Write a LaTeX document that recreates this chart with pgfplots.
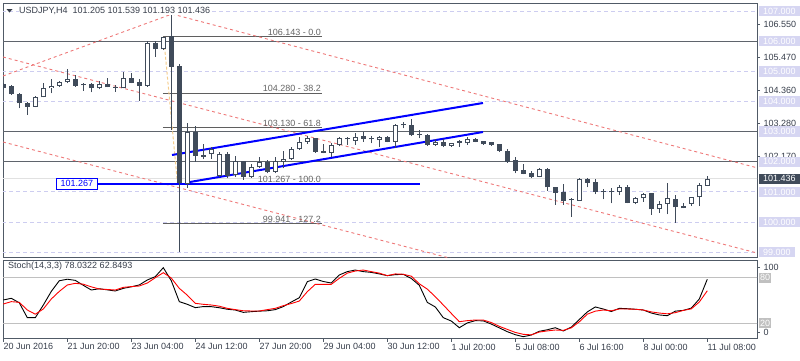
\documentclass[border=0pt]{standalone}
\usepackage{pgfplots}
\pgfplotsset{compat=1.18}
\usepackage{pgfplotstable}
\usepackage{fontspec}
\setmainfont{Liberation Sans}

\definecolor{cdark}{RGB}{64,75,90}
\definecolor{framec}{RGB}{80,90,102}
\definecolor{lav}{RGB}{205,205,240}
\definecolor{lavbox}{RGB}{214,214,242}
\definecolor{rdash}{RGB}{238,120,120}
\definecolor{fibc}{RGB}{95,95,95}
\definecolor{hline}{RGB}{95,100,108}
\definecolor{pline}{RGB}{225,225,225}
\definecolor{sgray}{RGB}{192,192,192}
\definecolor{txt}{RGB}{55,62,75}
\definecolor{fibtxt}{RGB}{100,100,100}
\definecolor{fibdiag}{RGB}{245,205,140}

\pgfplotstableread{
i o h l c
4 103.826 104.191 103.806 104.158
5 104.138 104.622 104.138 104.436
6 104.436 104.735 104.270 104.513
7 104.513 104.688 104.489 104.645
8 104.635 105.066 104.602 104.735
12 104.436 104.668 104.403 104.579
15 104.436 104.967 104.436 104.768
18 104.522 106.005 104.489 105.929
20 105.730 106.148 105.706 106.128
23 101.252 103.275 101.139 102.977
26 102.247 102.499 102.091 102.413
27 101.537 102.333 101.504 102.247
29 101.561 102.191 101.504 102.025
31 101.504 101.925 101.471 101.836
32 101.816 102.148 101.783 101.982
34 101.670 102.168 101.617 102.025
35 102.002 102.367 101.783 102.081
36 102.081 102.499 102.058 102.413
37 102.413 102.831 102.390 102.665
38 102.665 102.854 102.589 102.798
41 102.300 102.612 102.168 102.556
42 102.556 102.811 102.522 102.778
44 102.698 102.944 102.556 102.811
47 102.721 102.864 102.479 102.831
49 102.665 103.252 102.446 103.219
54 102.556 102.745 102.522 102.665
56 102.532 102.632 102.499 102.612
58 102.612 102.811 102.556 102.745
67 101.504 101.783 101.484 101.750
72 100.708 101.451 100.708 101.418
77 101.007 101.229 100.897 101.153
79 100.642 100.841 100.589 100.788
80 100.788 100.974 100.675 100.930
82 100.423 100.708 100.310 100.599
83 100.599 101.305 100.257 100.788
86 100.599 100.841 100.532 100.821
87 100.821 101.285 100.532 101.229
88 101.205 101.539 101.193 101.436
}\bull

\pgfplotstableread{
i o h l c
0 104.579 104.612 104.380 104.446
1 104.513 104.546 104.214 104.247
2 104.247 104.290 103.773 103.939
3 103.959 103.992 103.551 103.826
9 104.735 104.877 104.489 104.513
10 104.579 104.622 104.357 104.536
11 104.579 104.602 104.304 104.436
13 104.579 104.768 104.469 104.469
14 104.489 104.546 104.323 104.456
16 104.768 104.934 104.602 104.622
17 104.655 104.735 104.025 104.522
19 105.929 106.015 105.484 105.730
21 106.171 106.867 103.053 105.153
22 105.176 105.242 99.017 101.285
24 102.977 103.186 102.002 102.201
25 102.224 102.589 102.081 102.174
28 102.247 102.333 101.451 101.537
30 102.025 102.035 101.395 101.504
33 101.982 102.058 101.617 101.670
39 102.778 102.798 102.300 102.333
40 102.357 102.579 102.280 102.300
43 102.798 102.831 102.556 102.745
45 102.854 102.997 102.665 102.755
46 102.778 102.854 102.612 102.745
48 102.831 102.864 102.645 102.665
50 103.219 103.328 103.109 103.209
51 103.219 103.408 102.854 102.887
52 102.897 103.053 102.778 102.881
53 102.887 102.920 102.522 102.556
55 102.665 102.745 102.479 102.522
57 102.645 102.721 102.499 102.638
59 102.755 102.778 102.645 102.665
60 102.688 102.698 102.566 102.579
61 102.639 102.655 102.539 102.556
62 102.579 102.605 102.323 102.373
63 102.373 102.413 101.969 102.002
64 102.048 102.148 101.617 101.703
65 101.726 101.925 101.584 101.594
66 101.637 101.703 101.451 101.504
68 101.750 101.783 101.040 101.153
69 101.153 101.153 100.566 100.974
70 100.987 101.262 100.566 100.708
71 100.731 100.788 100.178 100.715
73 101.440 101.460 101.153 101.305
74 101.319 101.418 100.920 101.007
75 101.040 101.086 100.755 100.987
76 101.030 101.120 100.622 100.987
78 101.172 101.229 100.622 100.642
81 100.954 100.974 100.234 100.423
84 100.755 100.897 99.979 100.489
85 100.532 100.642 100.456 100.456
}\bear

\pgfplotstableread{
i k d
0 50.7 45.4
1 52.9 48.5
2 47.0 47.6
3 27.4 37.5
4 27.4 32.0
5 44.0 38.8
6 62.0 52.0
7 76.0 62.0
8 78.0 70.4
9 76.5 72.6
10 70.0 71.5
11 63.8 68.0
12 65.5 65.1
13 64.0 64.5
14 62.5 63.8
15 66.0 67.3
16 68.0 68.3
17 70.5 69.1
18 77.0 73.0
19 81.4 80.0
20 93.2 86.6
21 76.0 79.5
22 48.5 66.0
23 45.0 57.0
24 40.6 46.3
25 42.0 45.0
26 41.9 44.1
27 40.5 42.5
28 38.5 39.7
29 37.5 38.0
30 34.4 36.5
31 35.3 36.2
32 36.0 36.2
33 36.5 38.0
34 38.0 39.7
35 42.0 43.2
36 48.0 46.0
37 53.7 49.3
38 74.8 61.6
39 78.3 71.3
40 75.0 71.3
41 73.0 71.3
42 83.6 79.2
43 88.0 86.0
44 90.1 88.8
45 88.0 90.1
46 87.0 88.0
47 85.0 86.0
48 82.7 82.7
49 84.0 85.0
50 84.4 84.5
51 79.0 82.0
52 70.0 72.0
53 47.5 65.0
54 41.5 55.0
55 27.4 44.1
56 23.0 33.0
57 14.2 22.1
58 20.5 23.5
59 23.5 24.3
60 23.2 24.3
61 19.0 21.0
62 14.0 16.0
63 9.0 12.0
64 5.0 8.0
65 2.4 5.5
66 4.6 4.8
67 9.5 8.5
68 11.5 10.0
69 14.2 11.2
70 9.9 10.7
71 15.0 14.0
72 25.0 22.0
73 35.0 32.0
74 41.5 36.0
75 38.8 37.5
76 35.5 36.5
77 39.7 38.8
78 39.2 38.8
79 38.5 38.5
80 37.5 37.5
81 33.5 35.0
82 31.0 33.5
83 30.0 32.5
84 36.0 34.0
85 37.0 37.0
86 40.0 39.0
87 52.0 48.0
88 78.03 62.85
}\stoch

\newcommand{\lblfont}{\fontsize{9}{10}\selectfont}

\pgfplotsset{
  every tick label/.append style={font=\lblfont, text=txt},
  wick/.style={draw=none, mark=none, forget plot,
    error bars/.cd, y dir=plus, y explicit, error mark=none,
    error bar style={draw=cdark, solid, line width=1pt}},
  body/.style={draw=none, mark=none, forget plot,
    error bars/.cd, y dir=plus, y explicit, error mark=none,
    error bar style={draw=#1, solid, line width=5pt}},
  innerbody/.style={draw=none, mark=none, forget plot,
    error bars/.cd, y dir=plus, y explicit, error mark=none,
    error bar style={draw=white, solid, line width=3pt}},
}

\begin{document}
\begin{tikzpicture}[x=1pt,y=1pt]
\path[use as bounding box] (0,0) rectangle (800,360);

% ---------------- main price panel ----------------
\begin{axis}[
  at={(3pt,103pt)}, anchor=south west, scale only axis,
  width=754pt, height=254pt,
  xmin=-0.0375, xmax=94.2125, ymin=98.8408, ymax=107.2653,
  clip mode=individual,
  axis line style={draw=framec, line width=1pt},
  xtick=\empty,
  ytick={102.17,103.28,104.36,105.47,106.55},
  yticklabels={102.170,103.280,104.360,105.470,106.550},
  ytick pos=right, yticklabel pos=right,
  tick align=outside, major tick length=3pt,
  tick style={draw=framec, line width=0.8pt},
  extra y ticks={99,100,101,102,103,104,105,106,107},
  extra y tick labels={99.000,100.000,101.000,102.000,103.000,104.000,105.000,106.000,107.000},
  extra y tick style={major tick length=0pt,
    yticklabel style={fill=lavbox, text=white, inner xsep=4pt, inner ysep=0pt,
      minimum height=10.5pt, xshift=2pt}},
]
% dashed integer grid
\pgfplotsinvokeforeach{99,100,...,107}{
  \addplot[lav, line width=0.9pt, dash pattern=on 4pt off 3pt, forget plot] coordinates {(-1,#1) (95,#1)};
}
% full width horizontal lines
\addplot[hline, line width=1pt] coordinates {(-1,106) (95,106)};
\addplot[hline, line width=1pt] coordinates {(-1,103) (95,103)};
\addplot[hline, line width=1pt] coordinates {(-1,102) (95,102)};
% bid line
\addplot[pline, line width=1pt] coordinates {(-1,101.436) (95,101.436)};
% fibonacci levels
\addplot[fibc, line width=1pt] coordinates {(19.96,106.143) (39.84,106.143)};
\addplot[fibc, line width=1pt] coordinates {(19.96,104.280) (39.84,104.280)};
\addplot[fibc, line width=1pt] coordinates {(19.96,103.130) (39.84,103.130)};
\addplot[fibc, line width=1pt] coordinates {(19.96,101.267) (39.84,101.267)};
\addplot[fibc, line width=1pt] coordinates {(19.96,99.941) (39.84,99.941)};
\addplot[fibdiag, line width=1pt, dash pattern=on 3pt off 2pt] coordinates {(20.04,106.143) (21.78,101.267)};
% red dashed channel lines
\addplot[rdash, line width=0.9pt, dash pattern=on 3pt off 3pt] coordinates {(-0.0375,104.844) (21.09,106.900)};
\addplot[rdash, line width=0.9pt, dash pattern=on 3pt off 3pt] coordinates {(21.09,106.900) (94.2125,101.80)};
\addplot[rdash, line width=0.9pt, dash pattern=on 3pt off 3pt] coordinates {(-0.0375,105.474) (94.2125,98.974)};
\addplot[rdash, line width=0.9pt, dash pattern=on 3pt off 3pt] coordinates {(-0.0375,102.655) (94.2125,96.155)};
% blue lines
\addplot[blue, line width=2pt] coordinates {(21.09,102.224) (59.96,103.949)};
\addplot[blue, line width=2pt] coordinates {(23.34,101.329) (59.96,102.987)};
\addplot[blue, line width=1.5pt] coordinates {(11.84,101.267) (52.09,101.267)};
% candles: wicks
\addplot[wick] table[x=i, y=l, y error plus expr=\thisrow{h}-\thisrow{l}] {\bear};
\addplot[wick] table[x=i, y=l, y error plus expr=\thisrow{h}-\thisrow{l}] {\bull};
% bodies
\addplot[body=cdark] table[x=i, y=c, y error plus expr={max(\thisrow{o}-\thisrow{c},0.035)}] {\bear};
\addplot[body=cdark] table[x=i, y=o, y error plus expr={max(\thisrow{c}-\thisrow{o},0.035)}] {\bull};
\addplot[innerbody] table[x=i, y expr=\thisrow{o}+0.0332, y error plus expr={max(\thisrow{c}-\thisrow{o}-0.0664,0.0001)}] {\bull};
% fib texts
\node[anchor=south east, inner sep=1pt, text=fibtxt, font=\lblfont] at (axis cs:39.84,106.143) {106.143 - 0.0};
\node[anchor=south east, inner sep=1pt, text=fibtxt, font=\lblfont] at (axis cs:39.84,104.280) {104.280 - 38.2};
\node[anchor=south east, inner sep=1pt, text=fibtxt, font=\lblfont] at (axis cs:39.84,103.130) {103.130 - 61.8};
\node[anchor=south east, inner sep=1pt, text=fibtxt, font=\lblfont] at (axis cs:39.84,101.267) {101.267 - 100.0};
\node[anchor=south east, inner sep=1pt, text=fibtxt, font=\lblfont] at (axis cs:39.84,99.941) {99.941 - 127.2};
% blue price label
\node[anchor=east, draw=blue, line width=0.8pt, fill=white, text=blue, font=\lblfont,
      inner xsep=4.5pt, inner ysep=0pt, minimum height=11.5pt] at (axis cs:11.84,101.267) {101.267};
% current price label
\node[anchor=west, fill=cdark, text=white, font=\lblfont, inner xsep=4pt, inner ysep=0pt,
      minimum height=10.5pt, xshift=2pt] at (axis cs:94.2125,101.436) {101.436};
\end{axis}

% title
\fill[txt] (6.5,351) -- (12.5,351) -- (9.5,347.5) -- cycle;
\node[anchor=west, fill=white, inner sep=0.5pt, text=txt, font=\lblfont] at (18.5,349.2)
  {USDJPY,H4\ \ 101.205 101.539 101.193 101.436};

% ---------------- stochastic panel ----------------
\begin{axis}[
  at={(3pt,21.5pt)}, anchor=south west, scale only axis,
  width=754pt, height=77.8pt,
  xmin=-0.0375, xmax=94.2125, ymin=0, ymax=102.37,
  clip mode=individual,
  axis line style={draw=framec, line width=1pt},
  xtick={0,8,...,88},
  xticklabels={20 Jun 2016,21 Jun 20:00,23 Jun 04:00,24 Jun 12:00,27 Jun 20:00,29 Jun 04:00,30 Jun 12:00,1 Jul 20:00,5 Jul 08:00,6 Jul 16:00,8 Jul 00:00,11 Jul 08:00},
  xtick pos=bottom,
  xticklabel style={anchor=north west, inner sep=0pt, yshift=-2pt},
  ytick={7.6,93.2}, yticklabels={0,100},
  ytick pos=right, yticklabel pos=right,
  tick align=outside, major tick length=3pt,
  tick style={draw=framec, line width=0.8pt},
  extra y ticks={20,80}, extra y tick labels={20,80},
  extra y tick style={major tick length=0pt,
    yticklabel style={fill=sgray, text=white, inner xsep=1pt, inner ysep=0pt,
      minimum height=10pt, xshift=2pt}},
]
\addplot[sgray, line width=1pt] coordinates {(-1,80) (95,80)};
\addplot[sgray, line width=1pt] coordinates {(-1,20) (95,20)};
\addplot[black, line width=0.9pt] table[x=i, y=k] {\stoch};
\addplot[red, line width=0.9pt] table[x=i, y=d] {\stoch};
\end{axis}
\node[anchor=west, inner sep=0pt, text=txt, font=\lblfont] at (8,93.5) {Stoch(14,3,3) 78.0322 62.8493};
\end{tikzpicture}
\end{document}
